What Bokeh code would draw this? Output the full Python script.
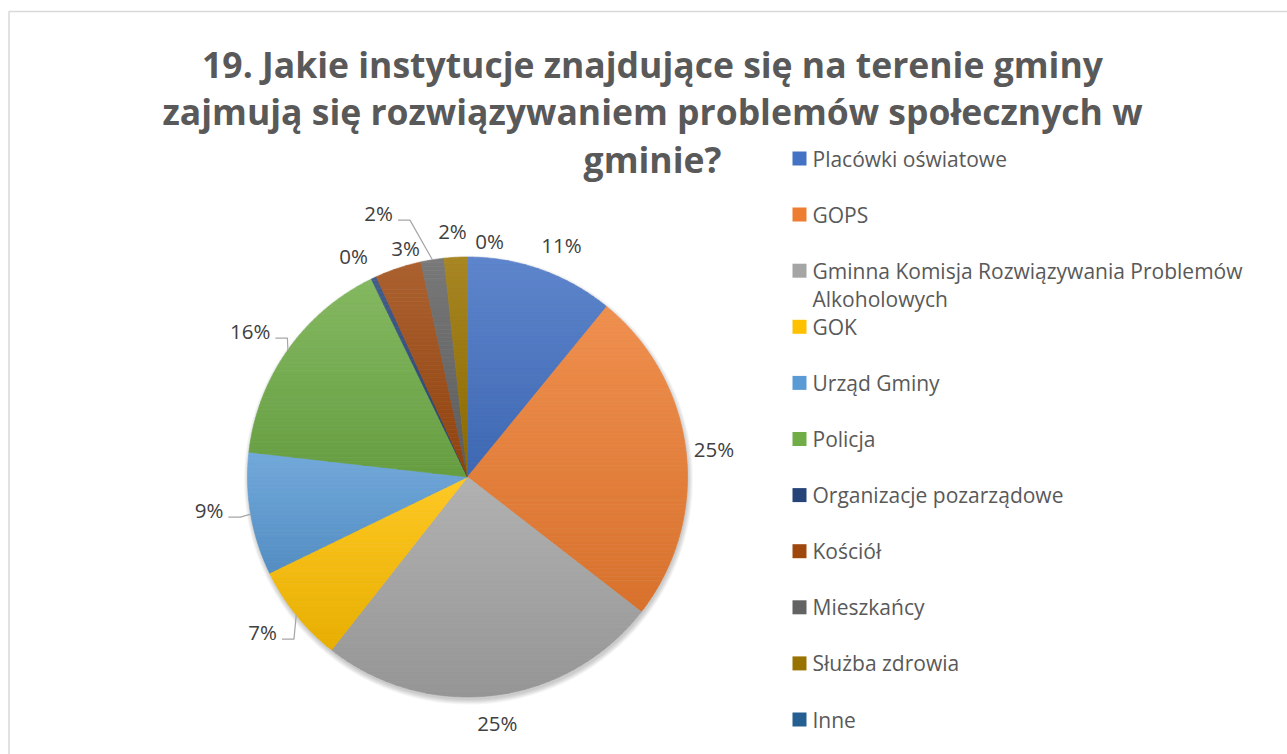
import numpy as np
from bokeh.plotting import figure
from bokeh.models import Range1d
from bokeh.embed import file_html
from bokeh.resources import INLINE
from bokeh.core.properties import value

# ---- data ----------------------------------------------------------------
title_lines = [
    "19. Jakie instytucje znajdujące się na terenie gminy",
    "zajmują się rozwiązywaniem problemów społecznych w",
    "gminie?",
]
categories = [
    "Placówki oświatowe",
    "GOPS",
    "Gminna Komisja Rozwiązywania Problemów Alkoholowych",
    "GOK",
    "Urząd Gminy",
    "Policja",
    "Organizacje pozarządowe",
    "Kościół",
    "Mieszkańcy",
    "Służba zdrowia",
    "Inne",
]
shares = [10.9, 24.6, 25.1, 7.2, 9.0, 16.0, 0.4, 3.4, 1.7, 1.7, 0.0]
colors = ["#4472C4", "#ED7D31", "#A5A5A5", "#FFC000", "#5B9BD5", "#70AD47",
          "#264478", "#9E480E", "#636363", "#997300", "#255E91"]

# ---- layout / style --------------------------------------------------------
W, H = 1287, 754
CX, CY, R = 467.0, 476.5, 220.0
FONT = "Open Sans"
LABEL_GAP = 24
# fine shifts of the data labels away from their default anchor
label_nudge = [(12, -2), (4, 0), (0, 4), (-15, 2), (-18, -8), (-18, -5),
               (-10, 0), (15, 3), (-50, -23), (-2, -2), (22, 8)]
with_leader = [False, False, False, True, True, True,
               False, False, True, False, False]

p = figure(width=W, height=H, x_range=Range1d(0, W), y_range=Range1d(H, 0),
           output_backend="svg", toolbar_location=None, min_border=0,
           x_axis_location=None, y_axis_location=None,
           background_fill_color="white", border_fill_color="white",
           outline_line_color=None)
p.xgrid.visible = False
p.ygrid.visible = False

# chart frame
p.quad(left=[8.5], right=[1300], top=[11], bottom=[800],
       fill_color=None, line_color="#D9D9D9", line_width=1.5)


def hex_rgb(h):
    h = h.lstrip("#")
    return np.array([int(h[i:i + 2], 16) for i in (0, 2, 4)], dtype=float)


def rgb_hex(c):
    c = np.clip(np.round(c), 0, 255).astype(int)
    return "#%02x%02x%02x" % tuple(c)


def clip_half(poly, y0, keep_below):
    """Sutherland-Hodgman clip of a polygon against the line y = y0."""
    out = []
    n = len(poly)
    for i in range(n):
        a, b = poly[i], poly[(i + 1) % n]
        ina = (a[1] >= y0) if keep_below else (a[1] <= y0)
        inb = (b[1] >= y0) if keep_below else (b[1] <= y0)
        if ina:
            out.append(a)
        if ina != inb:
            t = (y0 - a[1]) / (b[1] - a[1])
            out.append((a[0] + t * (b[0] - a[0]), y0))
    return out


def wedge(a0, a1):
    n = max(2, int(np.ceil((a1 - a0) / 0.5)) + 1)
    ang = np.radians(np.linspace(a0, a1, n))
    pts = [(CX, CY)] + [(CX + R * np.sin(a), CY - R * np.cos(a)) for a in ang]
    return pts


# soft drop shadow under the pie
k = 6
p.circle(x=[CX + 1] * k, y=[CY + 3] * k, radius=[R + i * 0.9 for i in range(k)],
         fill_color="black", fill_alpha=0.035, line_color=None)

total = float(sum(shares))
cum = np.concatenate([[0.0], np.cumsum(shares)]) / total * 360.0

band_xs, band_ys, band_cols = [], [], []
for i, col in enumerate(colors):
    a0, a1 = cum[i], cum[i + 1]
    if a1 - a0 <= 0:
        continue
    poly = wedge(a0, a1)
    ys = [pt[1] for pt in poly]
    y_top, y_bot = min(ys), max(ys)
    base = hex_rgb(col)
    tint = base + (255 - base) * 0.14
    shade = base * 0.91
    nb = max(2, int(np.ceil((y_bot - y_top) / 4.0)))
    edges = np.linspace(y_top, y_bot, nb + 1)
    for j in range(nb):
        piece = clip_half(poly, edges[j], True)
        if len(piece) < 3:
            continue
        piece = clip_half(piece, edges[j + 1], False)
        if len(piece) < 3:
            continue
        t = (j + 0.5) / nb
        c = rgb_hex(tint + (shade - tint) * t)
        band_xs.append([q[0] for q in piece])
        band_ys.append([q[1] for q in piece])
        band_cols.append(c)

p.patches(band_xs, band_ys, fill_color=band_cols, line_color=band_cols,
          line_width=0.6)

# ---- data labels -----------------------------------------------------------
lab_x, lab_y, lab_t = [], [], []
lead_xs, lead_ys = [], []
for i in range(len(shares)):
    mid = np.radians((cum[i] + cum[i + 1]) / 2.0)
    ux, uy = np.sin(mid), -np.cos(mid)
    txt = "%d%%" % int(round(shares[i] / total * 100))
    lx = CX + (R + LABEL_GAP) * ux + label_nudge[i][0]
    ly = CY + (R + LABEL_GAP) * uy + label_nudge[i][1]
    lab_x.append(lx)
    lab_y.append(ly)
    lab_t.append(txt)
    if with_leader[i]:
        hw = 0.5 * ((len(txt) - 1) * 11.4 + 17.4)
        sx, sy = lx + hw + 5, ly + 7
        ex, ey = CX + R * ux, CY + R * uy
        lead_xs.append([sx, sx + 12, ex])
        lead_ys.append([sy, sy, ey])

p.multi_line(lead_xs, lead_ys, line_color="#A6A6A6", line_width=1.2)
p.text(lab_x, lab_y, text=lab_t, text_font=value(FONT), text_font_size="20.5px",
       text_color="#404040", text_align="center", text_baseline="middle")

# ---- title -----------------------------------------------------------------
p.text([652] * 3, [63 + 47.5 * i for i in range(3)], text=title_lines,
       text_font=value(FONT), text_font_size="35.5px", text_font_style="bold",
       text_color="#595959", text_align="center", text_baseline="alphabetic")

# ---- legend ----------------------------------------------------------------
LEG_X, LEG_Y0, LEG_STEP = 799, 158.0, 56.1
sq_x, sq_y = [], []
lt_x, lt_y, lt_t = [], [], []
for i, name in enumerate(categories):
    yc = LEG_Y0 + i * LEG_STEP
    sq_x.append(LEG_X)
    sq_y.append(yc)
    lines = [name]
    if len(name) > 40:
        cut = name.rfind(" ", 0, 40)
        lines = [name[:cut], name[cut + 1:]]
    for k2, ln in enumerate(lines):
        lt_x.append(812)
        lt_y.append(yc + k2 * 28)
        lt_t.append(ln)

p.rect(sq_x, sq_y, width=14, height=14, fill_color=colors, line_color=None)
p.text(lt_x, lt_y, text=lt_t, text_font=value(FONT), text_font_size="21px",
       text_color="#595959", text_align="left", text_baseline="middle")

open("out.html", "w").write(file_html(p, INLINE))
